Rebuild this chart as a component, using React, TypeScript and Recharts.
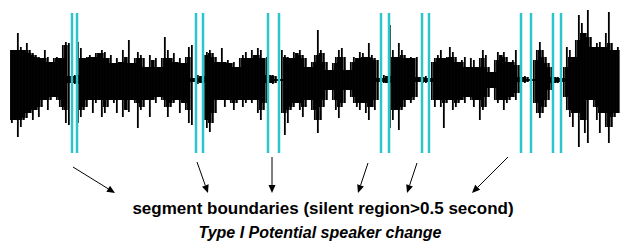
import { BarChart, Bar, XAxis, YAxis, ReferenceLine } from "recharts";

// peak amplitude above / below the centre line, one value per sample
const TOP = [
  30, 30, 47, 33, 30, 37, 30, 27, 25, 23, 22, 30, 23, 18, 22, 23, 22, 35, 38, 37,
  4, 5, 38, 32, 22, 23, 25, 23, 27, 27, 30, 28, 22, 25, 17, 22, 18, 30, 23, 40,
  17, 22, 28, 25, 22, 13, 25, 20, 22, 13, 22, 43, 30, 22, 27, 18, 22, 17, 23, 33,
  35, 2, 5, 4, 25, 28, 30, 27, 23, 18, 32, 18, 20, 17, 18, 13, 22, 25, 28, 22,
  30, 25, 32, 30, 22, 23, 5, 5, 4, 1, 30, 25, 23, 22, 28, 27, 30, 25, 22, 13,
  18, 25, 50, 30, 27, 18, 10, 17, 23, 30, 32, 23, 10, 18, 23, 22, 28, 27, 23, 37,
  25, 22, 20, 2, 5, 4, 55, 30, 23, 37, 30, 25, 22, 23, 22, 23, 3, 3, 4, 2,
  18, 22, 25, 30, 22, 23, 33, 28, 23, 18, 20, 23, 13, 22, 20, 13, 22, 30, 25, 13,
  8, 20, 28, 25, 28, 23, 18, 20, 30, 15, 3, 4, 3, 1, 20, 30, 38, 30, 23, 17,
  13, 3, 3, 2, 13, 33, 30, 23, 40, 65, 57, 47, 70, 43, 33, 37, 38, 33, 47, 68,
  37, 30, 33,
];
const BOTTOM = [
  43, 40, 57, 47, 40, 38, 33, 40, 30, 37, 27, 20, 30, 20, 17, 20, 27, 30, 43, 45,
  3, 4, 43, 37, 30, 27, 20, 33, 23, 20, 37, 33, 27, 20, 23, 33, 20, 37, 30, 32,
  20, 23, 48, 30, 27, 20, 37, 20, 23, 17, 20, 27, 37, 27, 23, 20, 33, 23, 30, 43,
  45, 2, 4, 3, 40, 48, 52, 43, 33, 20, 20, 27, 20, 23, 30, 23, 20, 27, 23, 20,
  23, 20, 33, 40, 30, 23, 3, 4, 3, 1, 33, 55, 43, 30, 27, 23, 30, 37, 27, 20,
  30, 40, 53, 40, 27, 20, 10, 20, 30, 38, 27, 23, 10, 17, 23, 27, 30, 23, 33, 40,
  27, 30, 20, 2, 3, 3, 48, 40, 30, 50, 30, 27, 20, 23, 20, 17, 2, 3, 3, 2,
  20, 27, 20, 27, 48, 23, 20, 30, 27, 23, 20, 23, 17, 20, 27, 20, 40, 30, 27, 17,
  8, 20, 23, 20, 30, 23, 20, 17, 20, 13, 2, 3, 2, 1, 23, 33, 38, 33, 27, 20,
  10, 3, 3, 2, 17, 30, 37, 47, 33, 67, 40, 53, 63, 20, 27, 40, 53, 33, 47, 63,
  47, 37, 33,
];

// silent-region boundaries, in sample units
const BOUNDARIES = [20, 21.67, 61.33, 63.67, 85.33, 89, 123, 125.67, 136.67, 139, 169.67, 173, 180.33, 183];

// arrows pointing from the caption up to the boundaries: [x1, y1, x2, y2]
const ARROWS: [number, number, number, number][] = [
  [20.33, -87, 34.33, -113],
  [61.67, -82, 65.33, -113],
  [86.67, -77, 86.67, -113],
  [118.67, -83, 115.33, -113],
  [135, -83, 131.67, -113],
  [165.33, -77, 153.33, -113],
];

const CAPTION = "segment boundaries (silent region>0.5 second)";
const SUBTITLE = "Type I Potential speaker change";

const data = TOP.map((t, i) => ({ i, amp: [-BOTTOM[i], t] }));

const CYAN = "#2cc6ca";

// solid core up to the neighbours' level, then a thin spike to the sample's own peak
function Sample(props: any) {
  const { x, y, width, height, index } = props;
  if (x === undefined || height === undefined) return <g />;
  const i = index ?? 0;
  const t = TOP[i];
  const b = BOTTOM[i];
  const h = Math.abs(height);
  const top = Math.min(y, y + height);
  const unit = h / (t + b || 1);
  const zero = top + t * unit;
  const coreT = Math.min(t, TOP[i - 1] ?? t, TOP[i + 1] ?? t);
  const coreB = Math.min(b, BOTTOM[i - 1] ?? b, BOTTOM[i + 1] ?? b);
  const cx = x + width / 2;
  return (
    <g>
      <rect x={cx - 1.8} y={zero - coreT * unit} width={3.6} height={(coreT + coreB) * unit} fill="#000" />
      <rect x={cx - 0.9} y={top} width={1.8} height={h} fill="#000" />
    </g>
  );
}

function Arrow(props: any) {
  const { x1, y1, x2, y2 } = props;
  if (x1 === undefined) return <g />;
  const ang = Math.atan2(y2 - y1, x2 - x1);
  const len = 8;
  const w = 3.5;
  const bx = x2 - len * Math.cos(ang);
  const by = y2 - len * Math.sin(ang);
  const px = -Math.sin(ang) * w;
  const py = Math.cos(ang) * w;
  return (
    <g>
      <line x1={x1} y1={y1} x2={bx} y2={by} stroke="#000" strokeWidth={1} />
      <path d={`M${x2} ${y2} L${bx + px} ${by + py} L${bx - px} ${by - py} Z`} fill="#000" />
    </g>
  );
}

export default function App() {
  return (
    <div style={{ position: "absolute", left: 0, top: 0, width: 620, height: 241, background: "#fff" }}>
      <BarChart width={620} height={241} data={data} margin={{ top: 0, right: 0, bottom: 0, left: 0 }}>
        <XAxis dataKey="i" type="number" domain={[-4, 202.6667]} hide />
        <YAxis type="number" domain={[-161, 80]} hide allowDataOverflow />
        <Bar dataKey="amp" fill="#000" barSize={3} shape={Sample} isAnimationActive={false} />
        {BOUNDARIES.map((b) => (
          <ReferenceLine
            key={b}
            segment={[{ x: b, y: 67 }, { x: b, y: -73 }]}
            stroke={CYAN}
            strokeWidth={2.5}
          />
        ))}
        {ARROWS.map((a, k) => (
          <ReferenceLine
            key={"a" + k}
            segment={[{ x: a[0], y: a[1] }, { x: a[2], y: a[3] }]}
            shape={Arrow}
            ifOverflow="visible"
          />
        ))}
      </BarChart>
      <div
        style={{
          position: "absolute",
          left: 0,
          width: 646,
          top: 199,
          textAlign: "center",
          fontFamily: "'Liberation Sans', Arial, sans-serif",
          fontWeight: "bold",
          fontSize: 17,
          lineHeight: "20px",
          color: "#000",
        }}
      >
        {CAPTION}
      </div>
      <div
        style={{
          position: "absolute",
          left: 0,
          width: 640,
          top: 224,
          textAlign: "center",
          fontFamily: "'Liberation Sans', Arial, sans-serif",
          fontWeight: "bold",
          fontStyle: "italic",
          fontSize: 16,
          lineHeight: "17px",
          color: "#000",
        }}
      >
        {SUBTITLE}
      </div>
    </div>
  );
}
